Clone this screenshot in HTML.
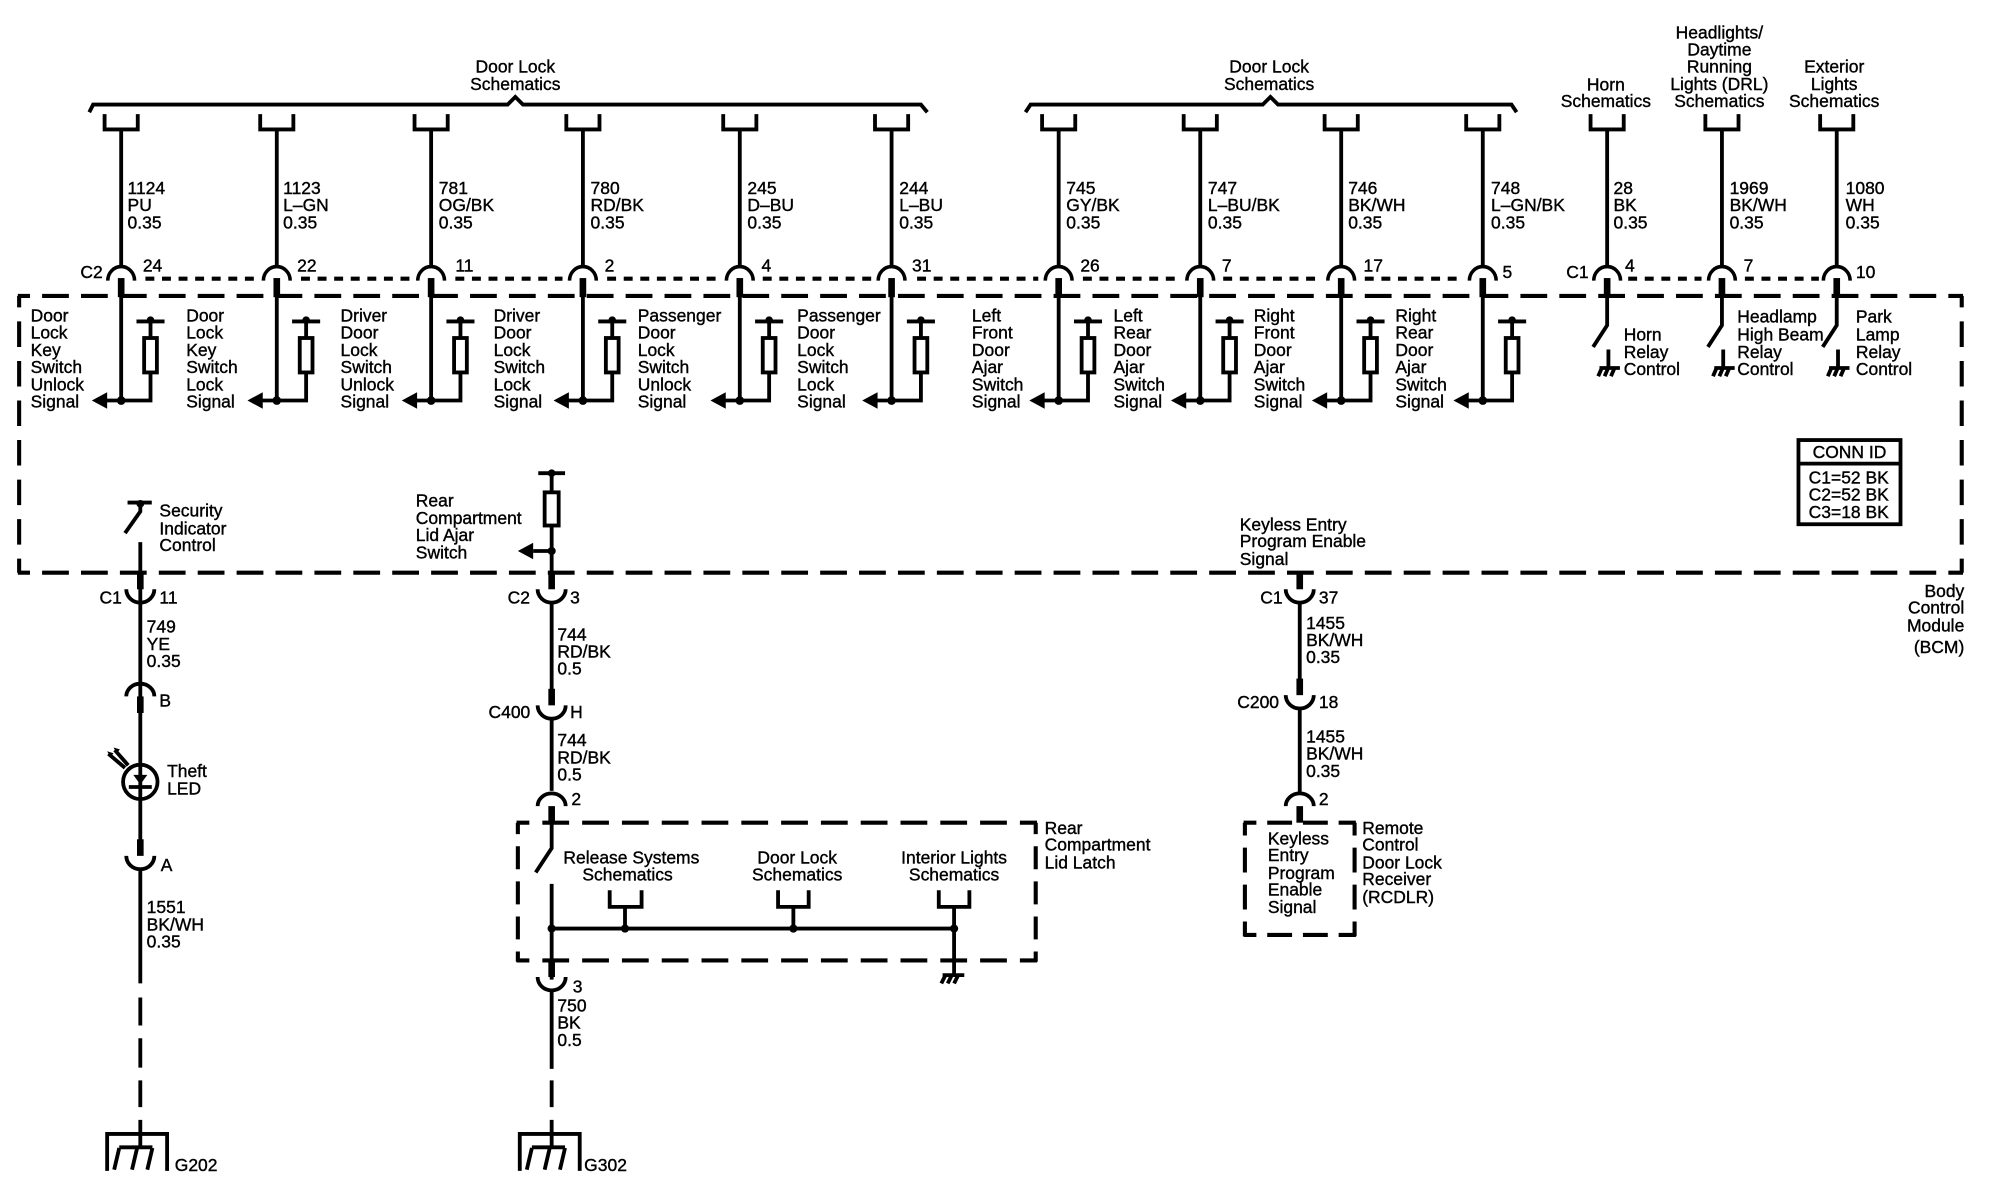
<!DOCTYPE html>
<html><head><meta charset="utf-8"><style>
html,body{margin:0;padding:0;background:#fff}
svg{display:block}
text{font-family:"Liberation Sans",sans-serif;font-size:13.7px;fill:#000;stroke:#000;stroke-width:.3}
.m{text-anchor:middle}.e{text-anchor:end}
.w{fill:none;stroke:#000;stroke-width:3;stroke-linecap:butt}
.s{fill:none;stroke:#000;stroke-width:5.2}
.d{fill:none;stroke:#000;stroke-width:3.2}
.o{fill:none;stroke:#000;stroke-width:3.2;stroke-dasharray:7 6}
</style></head><body>
<svg xmlns="http://www.w3.org/2000/svg" xmlns:xlink="http://www.w3.org/1999/xlink" width="2000" height="1200" viewBox="0 0 1568 940.8">
<defs>
<g id="u"><path class="w" d="M-13 89.500V101.500H13V89.500"/></g>
<g id="top"><use xlink:href="#u" y="0"/><path class="w" d="M0 101V209"/><path class="w" d="M-10.500 220A10.500 11 0 0 1 10.500 220" style="stroke-width:2.800"/><path class="s" d="M0 218V233"/></g>
<g id="col"><use xlink:href="#top"/><path class="w" d="M0 232V314"/><circle cx="0" cy="314" r="3.400"/><path d="M-23 314L-11 307.500V320.500Z"/><path class="w" d="M-12 314H23V292M23 265V252"/><path class="w" d="M12 252H34"/><circle cx="23" cy="251" r="3"/><rect x="18" y="265" width="10" height="27" fill="#fff" stroke="#000" stroke-width="3"/></g>
<g id="rly"><use xlink:href="#top"/><path class="w" d="M0 232V255L-11 272"/><path class="w" d="M1 274V288"/><path class="w" d="M-6 288.500H10" stroke-width="2"/><path class="w" d="M-4 288L-7 295M1 288L-2 295M6 288L3 295" stroke-width="2"/></g>
<g id="gnd"><path class="w" d="M-23.500 918V889H23.500V918"/><path class="w" d="M-14 899.500H12M-14 900L-18 917M0 900L-4 917M12 900L8 917"/></g>
<g id="dn"><path class="s" d="M0 0V13"/><path class="w" d="M-11 13A11 10.500 0 0 0 11 13"/></g>
<g id="up"><path class="w" d="M-11 10A11 10 0 0 1 11 10"/><path class="s" d="M0 10V23"/></g>
</defs>

<!-- braces -->
<path class="w" d="M70 88L73 82H398L404 76L410 82H722L727 88"/>
<path class="w" d="M804 88L808 82H990L996 76L1002 82H1185L1189 88"/>
<text class="m" x="404" y="57">Door Lock</text><text class="m" x="404" y="70.500">Schematics</text>
<text class="m" x="995" y="57">Door Lock</text><text class="m" x="995" y="70.500">Schematics</text>
<text class="m" x="1259" y="71">Horn</text><text class="m" x="1259" y="84">Schematics</text>
<text class="m" x="1348" y="30">Headlights/</text><text class="m" x="1348" y="43.500">Daytime</text><text class="m" x="1348" y="57">Running</text><text class="m" x="1348" y="70.500">Lights (DRL)</text><text class="m" x="1348" y="84">Schematics</text>
<text class="m" x="1438" y="57">Exterior</text><text class="m" x="1438" y="70.500">Lights</text><text class="m" x="1438" y="84">Schematics</text>

<!-- module box -->
<path class="d" style="stroke-dasharray:21 9.500;stroke-dashoffset:11.500" d="M14 232H1539M14 449H1539"/>
<path class="d" style="stroke-dasharray:20 11;stroke-dashoffset:11" d="M15 232V449M1538 232V449"/>
<path class="o" d="M114 218.500H201M236 218.500H322M357 218.500H441M476 218.500H564M598 218.500H683M719 218.500H814M849 218.500H925M959 218.500H1034M1070 218.500H1147"/>
<path class="o" d="M1276.500 218.500H1334M1368 218.500H1426"/>

<!-- columns -->
<use xlink:href="#col" x="95"/><use xlink:href="#col" x="217"/><use xlink:href="#col" x="338"/><use xlink:href="#col" x="457"/><use xlink:href="#col" x="580"/><use xlink:href="#col" x="699"/><use xlink:href="#col" x="830"/><use xlink:href="#col" x="941"/><use xlink:href="#col" x="1051.500"/><use xlink:href="#col" x="1162.500"/>
<use xlink:href="#rly" x="1260"/><use xlink:href="#rly" x="1350"/><use xlink:href="#rly" x="1440"/>

<!-- wire labels -->
<text x="100" y="152">1124</text><text x="100" y="165.500">PU</text><text x="100" y="179">0.35</text>
<text x="222" y="152">1123</text><text x="222" y="165.500">L–GN</text><text x="222" y="179">0.35</text>
<text x="344" y="152">781</text><text x="344" y="165.500">OG/BK</text><text x="344" y="179">0.35</text>
<text x="463" y="152">780</text><text x="463" y="165.500">RD/BK</text><text x="463" y="179">0.35</text>
<text x="586" y="152">245</text><text x="586" y="165.500">D–BU</text><text x="586" y="179">0.35</text>
<text x="705" y="152">244</text><text x="705" y="165.500">L–BU</text><text x="705" y="179">0.35</text>
<text x="836" y="152">745</text><text x="836" y="165.500">GY/BK</text><text x="836" y="179">0.35</text>
<text x="947" y="152">747</text><text x="947" y="165.500">L–BU/BK</text><text x="947" y="179">0.35</text>
<text x="1057" y="152">746</text><text x="1057" y="165.500">BK/WH</text><text x="1057" y="179">0.35</text>
<text x="1169" y="152">748</text><text x="1169" y="165.500">L–GN/BK</text><text x="1169" y="179">0.35</text>
<text x="1265" y="152">28</text><text x="1265" y="165.500">BK</text><text x="1265" y="179">0.35</text>
<text x="1356" y="152">1969</text><text x="1356" y="165.500">BK/WH</text><text x="1356" y="179">0.35</text>
<text x="1447" y="152">1080</text><text x="1447" y="165.500">WH</text><text x="1447" y="179">0.35</text>

<!-- pins -->
<text x="63" y="218">C2</text><text x="112" y="213">24</text><text x="233" y="213">22</text><text x="357" y="213">11</text><text x="474" y="213">2</text><text x="597" y="213">4</text><text x="715" y="213">31</text><text x="847" y="213">26</text><text x="958" y="213">7</text><text x="1069" y="213">17</text><text x="1178" y="218">5</text>
<text x="1228" y="218">C1</text><text x="1274" y="213">4</text><text x="1367" y="213">7</text><text x="1455" y="218">10</text>

<!-- signal labels -->
<text x="24" y="252">Door</text><text x="24" y="265.500">Lock</text><text x="24" y="279">Key</text><text x="24" y="292.500">Switch</text><text x="24" y="306">Unlock</text><text x="24" y="319.500">Signal</text>
<text x="146" y="252">Door</text><text x="146" y="265.500">Lock</text><text x="146" y="279">Key</text><text x="146" y="292.500">Switch</text><text x="146" y="306">Lock</text><text x="146" y="319.500">Signal</text>
<text x="267" y="252">Driver</text><text x="267" y="265.500">Door</text><text x="267" y="279">Lock</text><text x="267" y="292.500">Switch</text><text x="267" y="306">Unlock</text><text x="267" y="319.500">Signal</text>
<text x="387" y="252">Driver</text><text x="387" y="265.500">Door</text><text x="387" y="279">Lock</text><text x="387" y="292.500">Switch</text><text x="387" y="306">Lock</text><text x="387" y="319.500">Signal</text>
<text x="500" y="252">Passenger</text><text x="500" y="265.500">Door</text><text x="500" y="279">Lock</text><text x="500" y="292.500">Switch</text><text x="500" y="306">Unlock</text><text x="500" y="319.500">Signal</text>
<text x="625" y="252">Passenger</text><text x="625" y="265.500">Door</text><text x="625" y="279">Lock</text><text x="625" y="292.500">Switch</text><text x="625" y="306">Lock</text><text x="625" y="319.500">Signal</text>
<text x="762" y="252">Left</text><text x="762" y="265.500">Front</text><text x="762" y="279">Door</text><text x="762" y="292.500">Ajar</text><text x="762" y="306">Switch</text><text x="762" y="319.500">Signal</text>
<text x="873" y="252">Left</text><text x="873" y="265.500">Rear</text><text x="873" y="279">Door</text><text x="873" y="292.500">Ajar</text><text x="873" y="306">Switch</text><text x="873" y="319.500">Signal</text>
<text x="983" y="252">Right</text><text x="983" y="265.500">Front</text><text x="983" y="279">Door</text><text x="983" y="292.500">Ajar</text><text x="983" y="306">Switch</text><text x="983" y="319.500">Signal</text>
<text x="1094" y="252">Right</text><text x="1094" y="265.500">Rear</text><text x="1094" y="279">Door</text><text x="1094" y="292.500">Ajar</text><text x="1094" y="306">Switch</text><text x="1094" y="319.500">Signal</text>
<text x="1273" y="267">Horn</text><text x="1273" y="280.500">Relay</text><text x="1273" y="294">Control</text>
<text x="1362" y="253">Headlamp</text><text x="1362" y="267">High Beam</text><text x="1362" y="280.500">Relay</text><text x="1362" y="294">Control</text>
<text x="1455" y="253">Park</text><text x="1455" y="267">Lamp</text><text x="1455" y="280.500">Relay</text><text x="1455" y="294">Control</text>

<!-- conn id -->
<rect x="1410" y="345" width="80" height="66" fill="none" stroke="#000" stroke-width="3"/><path class="w" d="M1410 363.500H1490"/>
<text class="m" x="1450" y="359">CONN ID</text>
<text x="1418" y="379">C1=52 BK</text><text x="1418" y="392.500">C2=52 BK</text><text x="1418" y="406">C3=18 BK</text>
<text class="e" x="1540" y="468">Body</text><text class="e" x="1540" y="481">Control</text><text class="e" x="1540" y="495">Module</text><text class="e" x="1540" y="512">(BCM)</text>

<!-- LED column -->
<path class="w" d="M100 394H119"/><circle cx="110" cy="395" r="3"/><path class="w" d="M110 396V401L98 418"/>
<path class="w" d="M110 425V600"/><use xlink:href="#dn" x="110" y="449"/>
<text x="125" y="405">Security</text><text x="125" y="419">Indicator</text><text x="125" y="432">Control</text>
<text x="78" y="473">C1</text><text x="125" y="473">11</text>
<text x="115" y="496">749</text><text x="115" y="509.500">YE</text><text x="115" y="523">0.35</text>
<use xlink:href="#up" x="110" y="536"/>
<text x="125" y="554" stroke-width=".5">B</text>
<circle cx="110" cy="613" r="13.500" fill="#fff" stroke="#000" stroke-width="3"/>
<path d="M104.500 607.500H115.500L110 615Z"/><path class="w" d="M101 617H119M110 600V627"/>
<path class="w" d="M85 591L98 602M90 588L100.500 600" stroke-width="1.500"/><path d="M84 589l5 1.500-2.500 3zM89 586l5 1.500-2.500 3z"/>
<text x="131" y="609">Theft</text><text x="131" y="623">LED</text>
<path class="w" d="M110 627V660"/><use xlink:href="#dn" x="110" y="658"/>
<text x="126" y="683">A</text>
<path class="w" d="M110 680V771"/>
<text x="115" y="716">1551</text><text x="115" y="729.500">BK/WH</text><text x="115" y="743">0.35</text>
<path class="w" d="M110 782V804M110 814V837M110 847V868M110 878V900"/>
<use xlink:href="#gnd" x="107.500"/>
<text x="137" y="918">G202</text>

<!-- rear compartment column -->
<path class="w" d="M422 371H443"/><circle cx="432.500" cy="371" r="3"/><rect x="427" y="386" width="11" height="26" fill="#fff" stroke="#000" stroke-width="3"/>
<path class="w" d="M432.500 371V386M432.500 412V449"/><path class="w" d="M418 432H432"/><circle cx="432.500" cy="432" r="3.200"/><path d="M406 432L418 425.500V438.500Z"/>
<text x="326" y="397">Rear</text><text x="326" y="411">Compartment</text><text x="326" y="424">Lid Ajar</text><text x="326" y="438">Switch</text>
<use xlink:href="#dn" x="432.500" y="449"/><text x="398" y="473">C2</text><text x="447" y="473">3</text>
<path class="w" d="M432.500 472V545"/>
<text x="437" y="502">744</text><text x="437" y="515.500">RD/BK</text><text x="437" y="529">0.5</text>
<use xlink:href="#dn" x="432.500" y="540"/><text x="383" y="563">C400</text><text x="447" y="563">H</text>
<path class="w" d="M432.500 562V620"/>
<text x="437" y="585">744</text><text x="437" y="598.500">RD/BK</text><text x="437" y="612">0.5</text>
<use xlink:href="#up" x="432.500" y="622"/><text x="448" y="631">2</text>
<path class="w" d="M432.500 645V665L420 684M432.500 693V768"/>
<path class="d" style="stroke-dasharray:21 10.200;stroke-dashoffset:11" d="M405 645H813M405 753H813"/>
<path class="d" style="stroke-dasharray:18 9.500;stroke-dashoffset:9" d="M406 645V754M812 645V754"/>
<use xlink:href="#dn" x="432.500" y="753"/><text x="449" y="778">3</text>
<path class="w" d="M432.500 776V838M432.500 847V868M432.500 878V900"/>
<text x="437" y="793">750</text><text x="437" y="806.500">BK</text><text x="437" y="820">0.5</text>
<use xlink:href="#gnd" x="431"/>
<text x="458" y="918">G302</text>
<path class="w" d="M432 728H748M490 711V728M622 711V728"/>
<circle cx="432.500" cy="728" r="3.200"/><circle cx="490" cy="728" r="3.200"/><circle cx="622" cy="728" r="3.200"/><circle cx="748" cy="728" r="3.200"/>
<path class="w" d="M478 698V711H503V698M610 698V711H634V698M736 698V711H760V698"/>
<path class="w" d="M748 711V764" stroke-width="2"/>
<path class="w" d="M739 764.500H756M741 765L738 771M746 765L743 771M751 765L748 771" stroke-width="2"/>
<text class="m" x="495" y="677">Release Systems</text><text class="m" x="492" y="690.500">Schematics</text>
<text class="m" x="625" y="677">Door Lock</text><text class="m" x="625" y="690.500">Schematics</text>
<text class="m" x="748" y="677">Interior Lights</text><text class="m" x="748" y="690.500">Schematics</text>
<text x="819" y="654">Rear</text><text x="819" y="667">Compartment</text><text x="819" y="681">Lid Latch</text>

<!-- keyless column -->
<text x="972" y="416">Keyless Entry</text><text x="972" y="429">Program Enable</text><text x="972" y="443">Signal</text>
<use xlink:href="#dn" x="1019" y="449"/><text x="988" y="473">C1</text><text x="1034" y="473">37</text>
<path class="w" d="M1019 472V535"/>
<text x="1024" y="493">1455</text><text x="1024" y="506.500">BK/WH</text><text x="1024" y="520">0.35</text>
<use xlink:href="#dn" x="1019" y="532"/><text x="970" y="555">C200</text><text x="1034" y="555">18</text>
<path class="w" d="M1019 555V622"/>
<text x="1024" y="582">1455</text><text x="1024" y="595.500">BK/WH</text><text x="1024" y="609">0.35</text>
<use xlink:href="#up" x="1019" y="622"/><text x="1034" y="631">2</text>
<path class="d" style="stroke-dasharray:19.500 8.500;stroke-dashoffset:9.500" d="M975 645H1063M975 733H1063"/>
<path class="d" style="stroke-dasharray:19.500 9.500;stroke-dashoffset:9.500" d="M976 645V734M1062 645V734"/>
<text x="994" y="662">Keyless</text><text x="994" y="675">Entry</text><text x="994" y="689">Program</text><text x="994" y="702">Enable</text><text x="994" y="716">Signal</text>
<text x="1068" y="654">Remote</text><text x="1068" y="667">Control</text><text x="1068" y="681">Door Lock</text><text x="1068" y="694">Receiver</text><text x="1068" y="708">(RCDLR)</text>
</svg>
</body></html>
